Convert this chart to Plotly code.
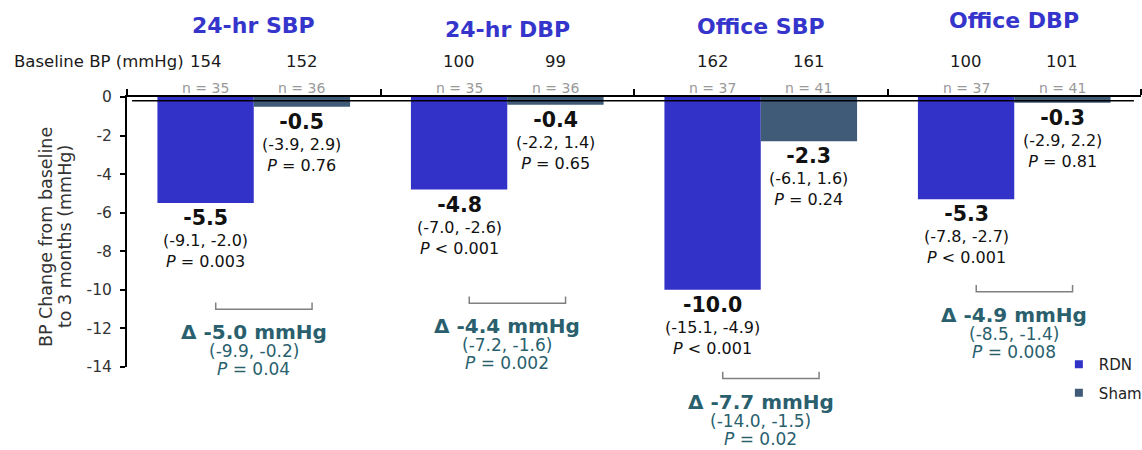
import plotly.graph_objects as go

# ---- data ----
groups = ["24-hr SBP", "24-hr DBP", "Office SBP", "Office DBP"]
rdn_change = [-5.5, -4.8, -10.0, -5.3]
sham_change = [-0.5, -0.4, -2.3, -0.3]
rdn_ci = ["(-9.1, -2.0)", "(-7.0, -2.6)", "(-15.1, -4.9)", "(-7.8, -2.7)"]
sham_ci = ["(-3.9, 2.9)", "(-2.2, 1.4)", "(-6.1, 1.6)", "(-2.9, 2.2)"]
rdn_p = ["= 0.003", "< 0.001", "< 0.001", "< 0.001"]
sham_p = ["= 0.76", "= 0.65", "= 0.24", "= 0.81"]
rdn_baseline = [154, 100, 162, 100]
sham_baseline = [152, 99, 161, 101]
rdn_n = [35, 35, 37, 37]
sham_n = [36, 36, 41, 41]
delta = [-5.0, -4.4, -7.7, -4.9]
delta_ci = ["(-9.9, -0.2)", "(-7.2, -1.6)", "(-14.0, -1.5)", "(-8.5, -1.4)"]
delta_p = ["= 0.04", "= 0.002", "= 0.02", "= 0.008"]
bracket_y = [-11.0, -10.7, -14.6, -10.1]
y_ticks = [0, -2, -4, -6, -8, -10, -12, -14]
y_title_lines = ["BP Change from baseline", "to 3 months (mmHg)"]

# ---- style ----
FONT = "DejaVu Sans"
RDN_COLOR = "#3232C8"
SHAM_COLOR = "#3F5B78"
TITLE_COLOR = "#3535CC"
DELTA_COLOR = "#2A5F6E"
BARGAP = 0.24
OFF = (1 - BARGAP) / 4
xs = list(range(len(groups)))
Y_MIN, Y_MAX = -14, 0

# plot area: left 127px, width 1015px, top 97px, bottom 367px
def py(p):
    return (367 - p) / 270.0

def px(p):
    return (p - 127) / 1015.0

def data_to_paper(v):
    return (v - Y_MIN) / (Y_MAX - Y_MIN)

fig = go.Figure()
fig.add_trace(go.Bar(x=xs, y=rdn_change, name="RDN", marker_color=RDN_COLOR,
                     marker_line_width=0, showlegend=False))
fig.add_trace(go.Bar(x=xs, y=sham_change, name="Sham", marker_color=SHAM_COLOR,
                     marker_line_width=0, showlegend=False))
# legend entries with small square symbols
for nm, col, grp in [("RDN", RDN_COLOR, "a"), ("Sham", SHAM_COLOR, "b")]:
    fig.add_trace(go.Scatter(x=[None], y=[None], mode="markers", name=nm, legendgroup=grp,
                             marker=dict(symbol="square", size=8, color=col)))

ann = []
title_py = [25, 30, 27, 20]
for i, g in enumerate(groups):
    ann.append(dict(x=i, y=py(title_py[i]), xref="x", yref="paper", yanchor="middle",
                    text=f"<b>{g}</b>", showarrow=False,
                    font=dict(size=22, color=TITLE_COLOR, family=FONT)))
    for off, bl, n in [(-OFF, rdn_baseline[i], rdn_n[i]), (OFF, sham_baseline[i], sham_n[i])]:
        ann.append(dict(x=i + off, y=py(61), xref="x", yref="paper", yanchor="middle",
                        text=str(bl), showarrow=False,
                        font=dict(size=16.5, color="#1a1a1a", family=FONT)))
        ann.append(dict(x=i + off, y=py(88), xref="x", yref="paper", yanchor="middle",
                        text=f"n = {n}", showarrow=False,
                        font=dict(size=14, color="#999999", family=FONT)))
    # bar value labels
    for off, v, ci, p in [(-OFF, rdn_change[i], rdn_ci[i], rdn_p[i]),
                          (OFF, sham_change[i], sham_ci[i], sham_p[i])]:
        ann.append(dict(x=i + off, y=v, xref="x", yref="y", yanchor="top", yshift=-1,
                        text=f"<b><span style='font-size:20.5px'>{v:.1f}</span></b><br>{ci}<br><i>P</i> {p}",
                        showarrow=False, align="center",
                        font=dict(size=16, color="#111111", family=FONT)))
    # delta labels: one annotation per line for tight spacing
    yb = data_to_paper(bracket_y[i])
    for txt, size, shift in [(f"<b>\u0394 {delta[i]:.1f} mmHg</b>", 20, -23),
                             (delta_ci[i], 17, -42),
                             (f"<i>P</i> {delta_p[i]}", 17, -60)]:
        ann.append(dict(x=i, y=yb, xref="x", yref="paper", yanchor="middle", yshift=shift,
                        text=txt, showarrow=False,
                        font=dict(size=size, color=DELTA_COLOR, family=FONT)))

ann.append(dict(x=px(12), y=py(61), xref="paper", yref="paper", xanchor="left",
                yanchor="middle", text="Baseline BP (mmHg)", showarrow=False,
                font=dict(size=16.5, color="#1a1a1a", family=FONT)))
# y-axis title (two rotated lines)
for line, cx in zip(y_title_lines, [46, 65]):
    ann.append(dict(x=px(cx), y=py(237), xref="paper", yref="paper", xanchor="center",
                    yanchor="middle", text=line, textangle=-90, showarrow=False,
                    font=dict(size=17.5, color="#333333", family=FONT)))

shapes = []
for i in xs:
    x1, x2 = i - OFF + 0.04, i + OFF + 0.04
    yb = data_to_paper(bracket_y[i])
    yt = data_to_paper(bracket_y[i] + 0.35)
    shapes.append(dict(type="path", xref="x", yref="paper",
                       path=f"M {x1},{yt} L {x1},{yb} L {x2},{yb} L {x2},{yt}",
                       line=dict(color="#808080", width=1.5)))
shapes.append(dict(type="line", xref="paper", yref="y", x0=0.005, x1=0.993, y0=-0.2, y1=-0.2,
                   line=dict(color="black", width=1.5), layer="above"))

fig.update_layout(
    width=1142, height=450,
    margin=dict(l=127, r=1, t=97, b=83, autoexpand=False),
    plot_bgcolor="white", paper_bgcolor="white",
    barmode="group", bargap=BARGAP, bargroupgap=0,
    font=dict(family=FONT, color="#333333"),
    annotations=ann, shapes=shapes,
    legend=dict(x=0.919, y=0.07, xanchor="left", yanchor="top",
                font=dict(size=15, color="#222222", family=FONT),
                tracegroupgap=6, bgcolor="rgba(0,0,0,0)", itemwidth=30),
    xaxis=dict(range=[-0.5, 3.5], side="top", showline=True, linecolor="black", linewidth=2,
               ticks="outside", ticklen=6, tickwidth=1.5, tickcolor="black",
               tickvals=[-0.5, 0.5, 1.5, 2.5, 3.5], showticklabels=False,
               showgrid=False, zeroline=False),
    yaxis=dict(range=[Y_MIN, Y_MAX], showline=True, linecolor="black", linewidth=2,
               ticks="outside", ticklen=5, tickwidth=1.5, tickcolor="black",
               tickvals=y_ticks, ticktext=[str(t) for t in y_ticks],
               tickfont=dict(size=15.5, color="#333333", family=FONT),
               ticklabelstandoff=5,
               showgrid=False, zeroline=False),
)

fig.write_html("out.html", config={"displayModeBar": False},
               post_script="document.body.style.margin='0';document.body.style.overflow='hidden';")
